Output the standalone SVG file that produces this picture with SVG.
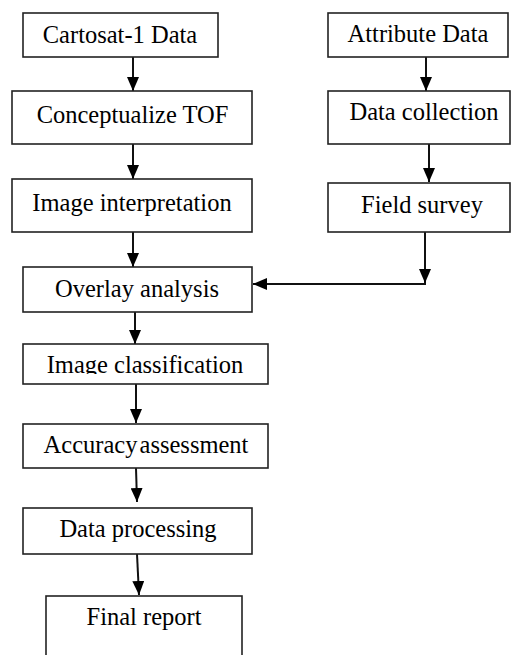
<svg xmlns="http://www.w3.org/2000/svg" width="511" height="655" viewBox="0 0 511 655">
<style>
.box{fill:#fff;stroke:#222;stroke-width:1.6}
.lbl{font-family:"Liberation Serif","Times New Roman",serif;font-size:24.5px;fill:#000;text-anchor:middle}
.con{stroke:#111;stroke-width:2;fill:none}
</style>
<defs>
<marker id="ah" viewBox="0 0 14 12" refX="14" refY="6" markerWidth="14" markerHeight="12" markerUnits="userSpaceOnUse" orient="auto">
<path d="M0,0 L14,6 L0,12 z" fill="#000"/>
</marker>
<clipPath id="clipIC"><rect x="23" y="344" width="245" height="30"/></clipPath>
</defs>
<rect width="511" height="655" fill="#fff"/>
<g id="connectors">
<line class="con" x1="133" y1="57" x2="133" y2="91" marker-end="url(#ah)"/>
<line class="con" x1="133" y1="144" x2="133" y2="179" marker-end="url(#ah)"/>
<line class="con" x1="133" y1="232" x2="133" y2="267" marker-end="url(#ah)"/>
<line class="con" x1="426" y1="57" x2="426" y2="91" marker-end="url(#ah)"/>
<line class="con" x1="429" y1="139" x2="429" y2="182" marker-end="url(#ah)"/>
<line class="con" x1="425" y1="232" x2="425" y2="283" marker-end="url(#ah)"/>
<line class="con" x1="426" y1="284" x2="253" y2="284" marker-end="url(#ah)"/>
<line class="con" x1="135" y1="312" x2="135" y2="344" marker-end="url(#ah)"/>
<line class="con" x1="136" y1="384" x2="136" y2="423" marker-end="url(#ah)"/>
<line class="con" x1="136" y1="468" x2="137" y2="502" marker-end="url(#ah)"/>
<line class="con" x1="137" y1="554" x2="139" y2="595" marker-end="url(#ah)"/>
</g>
<g id="cartosat"><rect class="box" x="23" y="13" width="195" height="44"/><text class="lbl" x="120" y="43">Cartosat-1 Data</text></g>
<g id="conceptualize"><rect class="box" x="12" y="91" width="240" height="53"/><text class="lbl" x="132.5" y="123">Conceptualize TOF</text></g>
<g id="image-interpretation"><rect class="box" x="12" y="179" width="240" height="53"/><text class="lbl" x="132" y="211">Image interpretation</text></g>
<g id="attribute"><rect class="box" x="328" y="13" width="180" height="44"/><text class="lbl" x="418" y="42">Attribute Data</text></g>
<g id="data-collection"><rect class="box" x="328" y="91" width="182" height="53"/><text class="lbl" x="424" y="120">Data collection</text></g>
<g id="field-survey"><rect class="box" x="328" y="183" width="182" height="49"/><text class="lbl" x="422" y="213">Field survey</text></g>
<g id="overlay"><rect class="box" x="23" y="267" width="229" height="45"/><text class="lbl" x="137" y="297">Overlay analysis</text></g>
<g id="image-classification"><rect class="box" x="23" y="344" width="245" height="40"/><text class="lbl" x="145" y="373" clip-path="url(#clipIC)">Image classification</text></g>
<g id="accuracy"><rect class="box" x="23" y="424" width="245" height="44"/><text class="lbl" x="146" y="453" word-spacing="-4">Accuracy assessment</text></g>
<g id="data-processing"><rect class="box" x="23" y="508" width="229" height="46"/><text class="lbl" x="138" y="537">Data processing</text></g>
<g id="final-report"><rect class="box" x="46" y="596" width="196" height="70"/><text class="lbl" x="144" y="625">Final report</text></g>
</svg>
